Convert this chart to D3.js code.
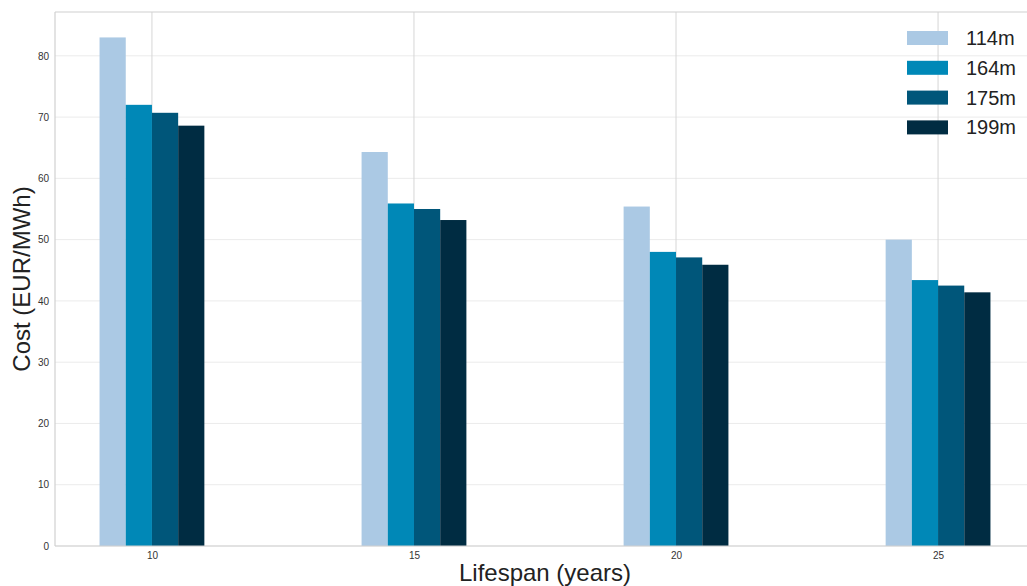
<!DOCTYPE html>
<html>
<head>
<meta charset="utf-8">
<script src="https://cdn.jsdelivr.net/npm/d3@7"></script>
<style>
html,body{margin:0;padding:0;background:#fff;}
svg{display:block;font-family:"Liberation Sans",Arial,sans-serif;}
</style>
</head>
<body>
<svg id="chart" width="1027" height="586"></svg>
<script>
const lifespans = [10, 15, 20, 25];
const seriesNames = ["114m", "164m", "175m", "199m"];
const values114 = [83.0, 64.3, 55.4, 50.0];
const values164 = [72.0, 55.9, 48.0, 43.4];
const values175 = [70.7, 55.0, 47.1, 42.5];
const values199 = [68.6, 53.2, 45.9, 41.4];
const seriesValues = [values114, values164, values175, values199];
const colors = ["#abc9e4", "#0088b7", "#00567a", "#002c42"];
const yTicks = [0, 10, 20, 30, 40, 50, 60, 70, 80];
const barOffsets = [-1, -0.5, 0, 0.5];
const barWidth = 0.5;

const svg = d3.select("#chart");
const m = {left: 55, top: 12, right: 1035, bottom: 546};

const x = d3.scaleLinear().domain([8.15, 26.85]).range([m.left, m.right]);
const y = d3.scaleLinear().domain([0, 83 * 1.05]).range([m.bottom, m.top]);

// horizontal grid
svg.append("g").selectAll("line").data(yTicks).join("line")
  .attr("x1", m.left).attr("x2", m.right)
  .attr("y1", d => y(d)).attr("y2", d => y(d))
  .attr("stroke", "#ebebeb").attr("stroke-width", 1);
// vertical grid
svg.append("g").selectAll("line").data(lifespans).join("line")
  .attr("x1", d => x(d)).attr("x2", d => x(d))
  .attr("y1", m.top).attr("y2", m.bottom)
  .attr("stroke", "#d6d6d6").attr("stroke-width", 1);

// bars
seriesValues.forEach((vals, si) => {
  svg.append("g").selectAll("rect").data(vals).join("rect")
    .attr("x", (d, i) => x(lifespans[i] + barOffsets[si]))
    .attr("width", (d, i) => x(lifespans[i] + barOffsets[si] + barWidth) - x(lifespans[i] + barOffsets[si]))
    .attr("y", d => y(d))
    .attr("height", d => y(0) - y(d))
    .attr("fill", colors[si]);
});

// spines
svg.append("line").attr("x1", m.left).attr("x2", m.left).attr("y1", m.top).attr("y2", m.bottom)
  .attr("stroke", "#d0d0d0").attr("stroke-width", 1.2);
svg.append("line").attr("x1", m.left).attr("x2", m.right).attr("y1", m.bottom).attr("y2", m.bottom)
  .attr("stroke", "#d0d0d0").attr("stroke-width", 1.2);
svg.append("line").attr("x1", m.left).attr("x2", m.right).attr("y1", m.top).attr("y2", m.top)
  .attr("stroke", "#d0d0d0").attr("stroke-width", 1.2);

// axes
const yAxis = d3.axisLeft(y).tickValues(yTicks).tickSize(0).tickPadding(6);
const gy = svg.append("g").attr("transform", `translate(${m.left},0)`).call(yAxis);
gy.select(".domain").remove();
gy.selectAll("text").attr("font-size", 10).attr("fill", "#333").attr("font-family", "Liberation Sans, Arial, sans-serif");

const xAxis = d3.axisBottom(x).tickValues(lifespans).tickSize(0).tickPadding(6).tickFormat(d3.format("d"));
const gx = svg.append("g").attr("transform", `translate(0,${m.bottom})`).call(xAxis);
gx.select(".domain").remove();
gx.selectAll("text").attr("font-size", 10).attr("fill", "#333").attr("font-family", "Liberation Sans, Arial, sans-serif");

// axis labels
svg.append("text").attr("x", (m.left + m.right) / 2).attr("y", 581)
  .attr("text-anchor", "middle").attr("font-size", 24).attr("fill", "#222")
  .text("Lifespan (years)");
svg.append("text").attr("transform", `translate(30,${(m.top + m.bottom) / 2}) rotate(-90)`)
  .attr("text-anchor", "middle").attr("font-size", 24).attr("fill", "#222")
  .text("Cost (EUR/MWh)");

// legend
const lg = svg.append("g");
seriesNames.forEach((name, i) => {
  const cy = 38 + i * 29.8;
  lg.append("rect").attr("x", 907).attr("y", cy - 7).attr("width", 41).attr("height", 14).attr("fill", colors[i]);
  lg.append("text").attr("x", 966).attr("y", cy + 7).attr("font-size", 20).attr("fill", "#222").text(name);
});
</script>
</body>
</html>
